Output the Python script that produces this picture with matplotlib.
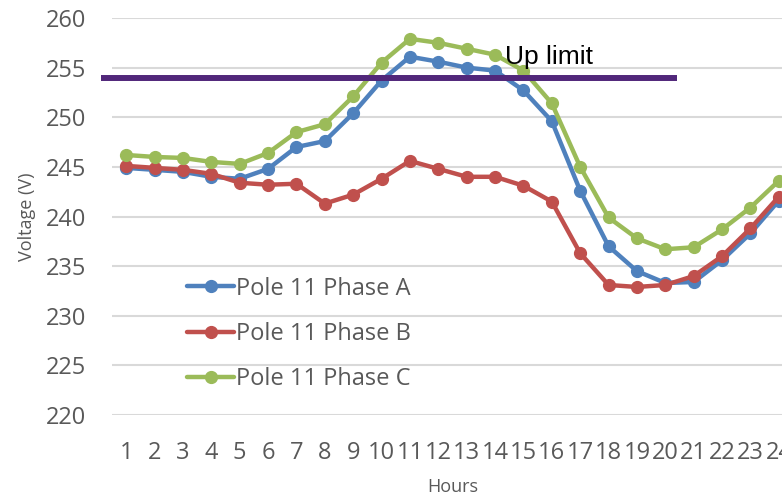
import matplotlib
matplotlib.use("Agg")
import matplotlib.pyplot as plt

hours = list(range(1, 25))
hour_labels = [str(h) for h in hours]

phase_a = [244.9, 244.7, 244.5, 244.0, 243.8, 244.8, 247.0, 247.6, 250.4, 253.7,
           256.1, 255.6, 255.0, 254.7, 252.7, 249.6, 242.6, 237.0, 234.5, 233.3,
           233.4, 235.6, 238.3, 241.6]
phase_b = [245.1, 244.9, 244.7, 244.3, 243.4, 243.2, 243.3, 241.3, 242.2, 243.8,
           245.6, 244.8, 244.0, 244.0, 243.1, 241.5, 236.3, 233.1, 232.9, 233.1,
           234.0, 236.0, 238.8, 242.0]
phase_c = [246.2, 246.0, 245.9, 245.5, 245.3, 246.4, 248.5, 249.3, 252.1, 255.5,
           257.9, 257.5, 256.9, 256.3, 254.7, 251.4, 245.0, 239.9, 237.8, 236.7,
           236.9, 238.7, 240.9, 243.6]
series_names = ["Pole 11 Phase A", "Pole 11 Phase B", "Pole 11 Phase C"]

limit_value = 254.0
limit_x_start = 0.12
limit_x_end = 20.4
limit_label = "Up limit"

yticks = [220, 225, 230, 235, 240, 245, 250, 255, 260]

colors = ["#4F81BD", "#C0504D", "#9BBB59"]
text_gray = "#595959"

W, H = 782, 496
fig = plt.figure(figsize=(W / 100, H / 100), dpi=100)
ax = fig.add_axes([112 / W, 1 - 415 / H, 681 / W, 397 / H])

font = "Open Sans"

for vals, name, c in zip([phase_a, phase_b, phase_c], series_names, colors):
    ax.plot(hours, vals, color=c, lw=3.2, marker="o", ms=8.5, label=name,
            solid_capstyle="round", zorder=3)

ax.plot([limit_x_start, limit_x_end], [limit_value, limit_value], color="#51277A",
        lw=4.3, clip_on=False, zorder=4, solid_capstyle="butt")
ax.text(14.35, 255.33, limit_label, fontsize=19, family="Liberation Sans",
        color="black", ha="left", va="baseline", zorder=5)

ax.set_xlim(0.5, 24.5)
ax.set_ylim(220, 260)
ax.set_xticks(hours)
ax.set_xticklabels(hour_labels)
ax.set_yticks(yticks)
ax.grid(axis="y", color="#D9D9D9", lw=1.5, zorder=0)
ax.set_axisbelow(True)
for s in ax.spines.values():
    s.set_visible(False)
ax.tick_params(axis="both", length=0, labelsize=17, labelcolor=text_gray)
ax.tick_params(axis="x", pad=19)
ax.tick_params(axis="y", pad=18.5)
for lab in ax.get_xticklabels() + ax.get_yticklabels():
    lab.set_family(font)

ax.set_xlabel("Hours", fontsize=13, color=text_gray, family=font, va="center")
ax.xaxis.set_label_coords(0.5, (415 - 487) / 397)
ax.set_ylabel("Voltage (V)", fontsize=13, color=text_gray, family=font, va="center")
ax.yaxis.set_label_coords((27 - 112) / 681, 0.5)

leg = ax.legend(loc="center left", bbox_to_anchor=(187 / W, 1 - 334 / H),
                bbox_transform=fig.transFigure, frameon=False, borderpad=0,
                borderaxespad=0, handlelength=2.0, handletextpad=0.08,
                labelspacing=0.9, prop={"family": font, "size": 17})
for t in leg.get_texts():
    t.set_color(text_gray)

fig.savefig("out.png", dpi=100)
